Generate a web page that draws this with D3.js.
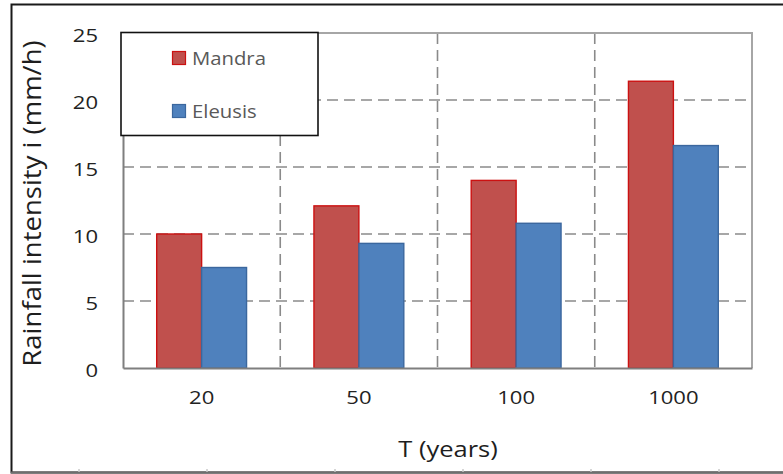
<!DOCTYPE html>
<html>
<head>
<meta charset="utf-8">
<script src="https://cdn.jsdelivr.net/npm/d3@7"></script>
<style>
  html, body { margin: 0; padding: 0; background: #fff; }
  svg { display: block; font-family: "Open Sans", "Noto Sans", sans-serif; }
</style>
</head>
<body>
<svg id="chart" width="783" height="474"></svg>
<script>
// Return periods (years) and rainfall intensities (mm/h) per station
const categories = ["20", "50", "100", "1000"];
const mandra = [10.0, 12.1, 14.0, 21.4];
const eleusis = [7.5, 9.3, 10.8, 16.6];
const seriesNames = ["Mandra", "Eleusis"];
const yTicks = [0, 5, 10, 15, 20, 25];
const xTitle = "T (years)";
const yTitle = "Rainfall intensity i (mm/h)";

const fills = { Mandra: "#C0504D", Eleusis: "#4F81BD" };
const strokes = { Mandra: "#CC1111", Eleusis: "#3B679E" };

const svg = d3.select("#chart");
const plot = { left: 123, right: 752, top: 33, bottom: 368 };
const sx = 1.16; // horizontal widening of label glyphs

// Outer frame
svg.append("rect")
  .attr("x", 11.5).attr("y", 4.5).attr("width", 790).attr("height", 468)
  .attr("fill", "#fff").attr("stroke", "#1a1a1a").attr("stroke-width", 2);
svg.append("line")
  .attr("x1", 11).attr("x2", 783).attr("y1", 472.5).attr("y2", 472.5)
  .attr("stroke", "#6e6e6e").attr("stroke-width", 2);
svg.selectAll("line.ruler").data([79, 207, 335, 463, 591, 719]).join("line")
  .attr("class", "ruler")
  .attr("x1", d => d).attr("x2", d => d).attr("y1", 469).attr("y2", 472)
  .attr("stroke", "#c8c8c8").attr("stroke-width", 1.5);

const x = d3.scaleBand().domain(categories).range([plot.left, plot.right]).padding(0);
const xs = d3.scaleBand().domain(seriesNames).range([0, x.bandwidth()])
  .paddingInner(0).paddingOuter(0.75);
const y = d3.scaleLinear().domain([0, 25]).range([plot.bottom, plot.top]);

// Dashed grid: horizontal at value ticks, vertical at category boundaries
const gridColor = "#8a8a8a";
svg.append("g").selectAll("line")
  .data(yTicks.filter(v => v > 0 && v < 25)).join("line")
  .attr("x1", plot.left).attr("x2", plot.right)
  .attr("y1", d => y(d)).attr("y2", d => y(d))
  .attr("stroke", gridColor).attr("stroke-width", 1.6)
  .attr("stroke-dasharray", "11,6");
svg.append("g").selectAll("line")
  .data(categories.slice(1)).join("line")
  .attr("x1", d => x(d)).attr("x2", d => x(d))
  .attr("y1", plot.top).attr("y2", plot.bottom)
  .attr("stroke", gridColor).attr("stroke-width", 1.6)
  .attr("stroke-dasharray", "11,6");

// Plot area border (top and right)
svg.append("path")
  .attr("d", `M${plot.left},${plot.top}H${plot.right}V${plot.bottom}`)
  .attr("fill", "none").attr("stroke", "#a6a6a6").attr("stroke-width", 2);

// Bars
const rows = categories.map((c, i) => ({ cat: c, Mandra: mandra[i], Eleusis: eleusis[i] }));
const groups = svg.append("g").selectAll("g").data(rows).join("g")
  .attr("transform", d => `translate(${x(d.cat)},0)`);
groups.selectAll("rect")
  .data(d => seriesNames.map(s => ({ s, v: d[s] })))
  .join("rect")
  .attr("x", d => xs(d.s)).attr("width", xs.bandwidth())
  .attr("y", d => y(d.v)).attr("height", d => y(0) - y(d.v))
  .attr("fill", d => fills[d.s])
  .attr("stroke", d => strokes[d.s]).attr("stroke-width", 1.4);

// Axes
const yAxis = svg.append("g")
  .attr("transform", `translate(${plot.left},0)`)
  .call(d3.axisLeft(y).tickValues(yTicks).tickSize(0).tickPadding(25));
const xAxis = svg.append("g")
  .attr("transform", `translate(0,${plot.bottom})`)
  .call(d3.axisBottom(x).tickSize(0).tickPadding(23));
[yAxis, xAxis].forEach(g => {
  g.select(".domain").attr("stroke", "#7f7f7f").attr("stroke-width", 2);
  g.selectAll("text")
    .attr("font-family", "'Open Sans', sans-serif")
    .attr("font-size", 19).attr("fill", "#222");
});
yAxis.selectAll("text").each(function () {
  const t = d3.select(this);
  t.attr("x", +t.attr("x") / sx).attr("dy", "0.45em").attr("transform", `scale(${sx},1)`);
});
xAxis.selectAll("text").attr("transform", `scale(${sx},1)`);

// Axis titles
svg.append("text")
  .attr("transform", `translate(448,457) scale(${sx},1)`)
  .attr("text-anchor", "middle")
  .attr("font-size", 22).attr("fill", "#1e1e1e")
  .text(xTitle);
svg.append("text")
  .attr("transform", `translate(41,${(plot.top + plot.bottom) / 2 + 3}) rotate(-90) scale(1.1,1)`)
  .attr("text-anchor", "middle")
  .attr("font-size", 25).attr("fill", "#1e1e1e")
  .text(yTitle);

// Legend
const legend = svg.append("g");
legend.append("rect")
  .attr("x", 121).attr("y", 32.5).attr("width", 197).attr("height", 103)
  .attr("fill", "#fff").attr("stroke", "#111").attr("stroke-width", 1.6);
const items = legend.selectAll("g").data(seriesNames).join("g")
  .attr("transform", (d, i) => `translate(172,${51 + i * 53})`);
items.append("rect")
  .attr("x", 0.5).attr("y", 0.5).attr("width", 13).attr("height", 13)
  .attr("fill", d => fills[d]).attr("stroke", d => strokes[d]).attr("stroke-width", 1.2);
items.append("text")
  .attr("transform", `translate(20,14) scale(${sx},1)`)
  .attr("font-size", 17.5).attr("fill", "#595959")
  .text(d => d);
</script>
</body>
</html>
